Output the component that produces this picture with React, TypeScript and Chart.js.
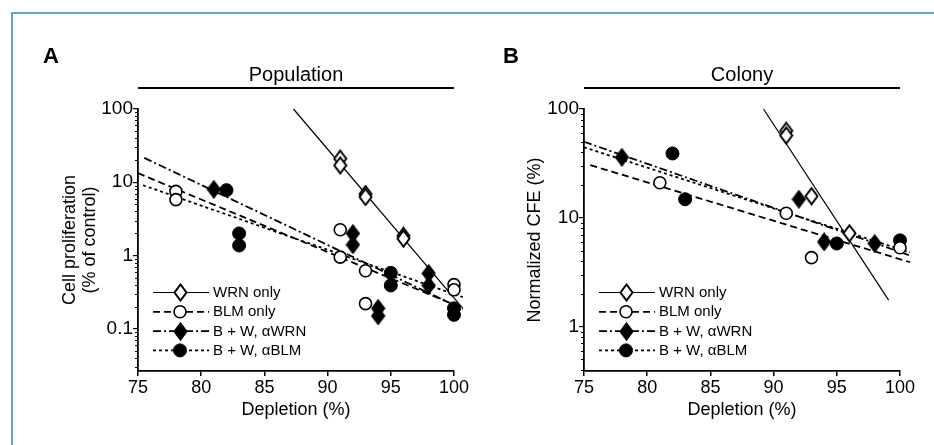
import React, { useEffect, useRef } from 'react';
import { Chart, registerables } from 'chart.js';

Chart.register(...registerables);

const FONT = '"Liberation Sans", Arial, Helvetica, sans-serif';

// ---------- shared ----------
const seriesNames = ['WRN only', 'BLM only', 'B + W, \u03b1WRN', 'B + W, \u03b1BLM'];
const xTicks = [75, 80, 85, 90, 95, 100];

// ---------- Panel A : Population ----------
const wrnA_x = [91, 91, 93, 93, 96, 96];
const wrnA_y = [21, 17, 6.9, 6.3, 1.85, 1.7];
const blmA_x = [78, 78, 91, 91, 93, 93, 100, 100];
const blmA_y = [7.5, 5.8, 2.25, 0.95, 0.62, 0.22, 0.4, 0.34];
const awrnA_x = [81, 92, 92, 94, 94, 98, 98];
const awrnA_y = [8.0, 2.0, 1.4, 0.19, 0.15, 0.57, 0.39];
const ablmA_x = [82, 83, 83, 95, 95, 100, 100];
const ablmA_y = [7.8, 2.0, 1.37, 0.58, 0.39, 0.19, 0.155];
// regression lines (end points)
const fitWrnA_x = [87.3, 100.7];
const fitWrnA_y = [100, 0.19];
const fitBlmA_x = [75, 100.7];
const fitBlmA_y = [13.3, 0.19];
const fitAwrnA_x = [75.5, 100.7];
const fitAwrnA_y = [21.5, 0.185];
const fitAblmA_x = [75.4, 100.7];
const fitAblmA_y = [9.1, 0.27];
const yTicksA = [0.1, 1, 10, 100];

// ---------- Panel B : Colony ----------
const wrnB_x = [91, 91, 93, 96];
const wrnB_y = [63, 57, 15.8, 7.2];
const blmB_x = [81, 91, 93, 100];
const blmB_y = [21, 11, 4.3, 5.3];
const awrnB_x = [78, 92, 94, 98];
const awrnB_y = [36, 14.8, 6.0, 5.8];
const ablmB_x = [82, 83, 95, 100];
const ablmB_y = [39, 14.8, 5.8, 6.2];
const fitWrnB_x = [89.2, 99.1];
const fitWrnB_y = [100, 1.75];
const fitBlmB_x = [75.5, 100.8];
const fitBlmB_y = [30.5, 3.9];
const fitAwrnB_x = [75, 100.8];
const fitAwrnB_y = [50, 4.5];
const fitAblmB_x = [75, 100.8];
const fitAblmB_y = [44.5, 4.8];
const yTicksB = [1, 10, 100];

const dashes = [[], [7, 4], [8, 3, 2, 3], [3, 3]];
const lineWidths = [1.2, 1.8, 1.8, 1.8];

const panels = [
  {
    key: 'A', letter: 'A', letterX: 43, title: 'Population',
    yTitle: ['Cell proliferation', '(% of control)'], yTitlePad: 60,
    yMin: 0.0265, yMax: 100, yTicks: yTicksA,
    yAxisWidth: 138, width: 500, rightPad: 46, left: 0,
    series: [[wrnA_x, wrnA_y], [blmA_x, blmA_y], [awrnA_x, awrnA_y], [ablmA_x, ablmA_y]],
    fits: [[fitWrnA_x, fitWrnA_y], [fitBlmA_x, fitBlmA_y], [fitAwrnA_x, fitAwrnA_y], [fitAblmA_x, fitAblmA_y]],
  },
  {
    key: 'B', letter: 'B', letterX: 36, title: 'Colony',
    yTitle: 'Normalized CFE (%)', yTitlePad: 58,
    yMin: 0.39, yMax: 100, yTicks: yTicksB,
    yAxisWidth: 117, width: 467, rightPad: 34, left: 467,
    series: [[wrnB_x, wrnB_y], [blmB_x, blmB_y], [awrnB_x, awrnB_y], [ablmB_x, ablmB_y]],
    fits: [[fitWrnB_x, fitWrnB_y], [fitBlmB_x, fitBlmB_y], [fitAwrnB_x, fitAwrnB_y], [fitAblmB_x, fitAblmB_y]],
  },
];

function makeDiamond(filled: boolean) {
  const c = document.createElement('canvas');
  c.width = 15;
  c.height = 19;
  const g = c.getContext('2d')!;
  g.beginPath();
  g.moveTo(7.5, 1.5);
  g.lineTo(13.5, 9.5);
  g.lineTo(7.5, 17.5);
  g.lineTo(1.5, 9.5);
  g.closePath();
  g.fillStyle = filled ? '#000' : '#fff';
  g.fill();
  g.lineWidth = 2;
  g.lineJoin = 'miter';
  g.strokeStyle = '#000';
  g.stroke();
  return c;
}

function makeMarkers() {
  return [
    { style: makeDiamond(false), radius: 7, fill: '#fff', bw: 1.5 },
    { style: 'circle', radius: 6, fill: '#fff', bw: 1.6 },
    { style: makeDiamond(true), radius: 7, fill: '#000', bw: 1.5 },
    { style: 'circle', radius: 6.5, fill: '#000', bw: 1 },
  ];
}

const decorPlugin = {
  id: 'decor',
  afterDraw(chart: any, _args: any, opts: any) {
    const { ctx, chartArea: a } = chart;
    ctx.save();
    ctx.fillStyle = '#000';
    ctx.strokeStyle = '#000';
    // panel letter
    ctx.font = `bold 22px ${FONT}`;
    ctx.textAlign = 'left';
    ctx.textBaseline = 'alphabetic';
    ctx.fillText(opts.letter, opts.letterX, a.top - 46);
    // title with underline
    ctx.font = `20px ${FONT}`;
    ctx.textAlign = 'center';
    ctx.fillText(opts.title, (a.left + a.right) / 2, a.top - 28);
    ctx.lineWidth = 2;
    ctx.beginPath();
    ctx.moveTo(a.left, a.top - 21);
    ctx.lineTo(a.right, a.top - 21);
    ctx.stroke();
    // minor log ticks
    const ys = chart.scales.y;
    ctx.lineWidth = 1;
    const d0 = Math.floor(Math.log10(ys.min));
    const d1 = Math.ceil(Math.log10(ys.max));
    for (let d = d0; d <= d1; d++) {
      for (let m = 2; m <= 9; m++) {
        const v = m * Math.pow(10, d);
        if (v < ys.min || v > ys.max) continue;
        const py = Math.round(ys.getPixelForValue(v)) + 0.5;
        ctx.beginPath();
        ctx.moveTo(a.left - 3, py);
        ctx.lineTo(a.left, py);
        ctx.stroke();
      }
    }
    // legend
    const markers = opts.markers;
    ctx.font = `15px ${FONT}`;
    ctx.textAlign = 'left';
    ctx.textBaseline = 'middle';
    seriesNames.forEach((name: string, i: number) => {
      const y = a.top + 183.5 + i * 19.3;
      ctx.setLineDash(dashes[i]);
      ctx.lineWidth = lineWidths[i];
      ctx.beginPath();
      ctx.moveTo(a.left + 15, y);
      ctx.lineTo(a.left + 71, y);
      ctx.stroke();
      ctx.setLineDash([]);
      const mk = markers[i];
      const mx = a.left + 42;
      if (typeof mk.style === 'string') {
        ctx.beginPath();
        ctx.arc(mx, y, mk.radius, 0, Math.PI * 2);
        ctx.fillStyle = mk.fill;
        ctx.fill();
        ctx.lineWidth = mk.bw;
        ctx.strokeStyle = '#000';
        ctx.stroke();
      } else {
        ctx.drawImage(mk.style, Math.round(mx - mk.style.width / 2), Math.round(y - mk.style.height / 2));
      }
      ctx.fillStyle = '#000';
      ctx.fillText(name, a.left + 75, y + 0.5);
    });
    ctx.restore();
  },
};

function Panel({ p }: { p: any }) {
  const ref = useRef<HTMLCanvasElement>(null);
  useEffect(() => {
    const markers = makeMarkers();
    const datasets: any[] = [];
    p.series.forEach((s: number[][], i: number) => {
      datasets.push({
        label: seriesNames[i],
        data: s[0].map((x, j) => ({ x, y: s[1][j] })),
        showLine: false,
        pointStyle: markers[i].style,
        pointRadius: markers[i].radius,
        pointBackgroundColor: markers[i].fill,
        pointBorderColor: '#000',
        pointBorderWidth: markers[i].bw,
        order: 0,
        clip: false,
      });
    });
    p.fits.forEach((f: number[][], i: number) => {
      datasets.push({
        label: seriesNames[i] + ' fit',
        data: f[0].map((x, j) => ({ x, y: f[1][j] })),
        showLine: true,
        borderColor: '#000',
        borderWidth: lineWidths[i],
        borderDash: dashes[i],
        pointRadius: 0,
        fill: false,
        order: 1,
        clip: false,
      });
    });
    const chart = new Chart(ref.current!, {
      type: 'scatter',
      data: { datasets },
      options: {
        responsive: false,
        animation: false,
        events: [],
        devicePixelRatio: 1,
        layout: { padding: { top: 109, right: p.rightPad, bottom: 0, left: 0 } },
        plugins: {
          legend: { display: false },
          tooltip: { enabled: false },
          decor: { letter: p.letter, letterX: p.letterX, title: p.title, markers },
        } as any,
        scales: {
          x: {
            type: 'linear',
            min: 75,
            max: 100,
            afterBuildTicks: (s: any) => { s.ticks = xTicks.map((v) => ({ value: v })); },
            afterFit: (s: any) => { s.height = 74; s.paddingLeft = 0; s.paddingRight = 0; },
            ticks: { color: '#000', font: { family: FONT, size: 18 }, padding: 1, maxRotation: 0, autoSkip: false },
            grid: { display: true, drawOnChartArea: false, drawTicks: true, tickLength: 5, color: '#000', lineWidth: 1.5 },
            border: { display: true, color: '#000', width: 1.8 },
            title: { display: true, text: 'Depletion (%)', color: '#000', font: { family: FONT, size: 18 }, padding: { top: 0, bottom: 24 } },
          },
          y: {
            type: 'logarithmic',
            min: p.yMin,
            max: p.yMax,
            afterBuildTicks: (s: any) => { s.ticks = p.yTicks.map((v: number) => ({ value: v })); },
            afterFit: (s: any) => { s.width = p.yAxisWidth; s.paddingTop = 0; s.paddingBottom = 0; },
            ticks: { color: '#000', font: { family: FONT, size: 19 }, padding: 0, callback: (v: any) => String(v) },
            grid: { display: true, drawOnChartArea: false, drawTicks: true, tickLength: 5, color: '#000', lineWidth: 1.2 },
            border: { display: true, color: '#000', width: 1.8 },
            title: { display: true, text: p.yTitle, color: '#000', font: { family: FONT, size: 18, lineHeight: 1.1 }, padding: { top: p.yTitlePad, bottom: 0 } },
          },
        } as any,
      },
      plugins: [decorPlugin],
    } as any);
    return () => chart.destroy();
  }, []);
  return (
    <canvas
      ref={ref}
      width={p.width}
      height={445}
      style={{ position: 'absolute', left: p.left, top: 0, width: p.width, height: 445 }}
    />
  );
}

export default function App() {
  return (
    <div style={{ position: 'absolute', left: 0, top: 0, width: 934, height: 445, background: '#fff', overflow: 'hidden' }}>
      {panels.map((p) => <Panel key={p.key} p={p} />)}
      <div style={{ position: 'absolute', left: 11, top: 12, width: 923, height: 2, background: '#6a9fd6' }} />
      <div style={{ position: 'absolute', left: 11, top: 12, width: 2, height: 433, background: '#6a9fd6' }} />
    </div>
  );
}
